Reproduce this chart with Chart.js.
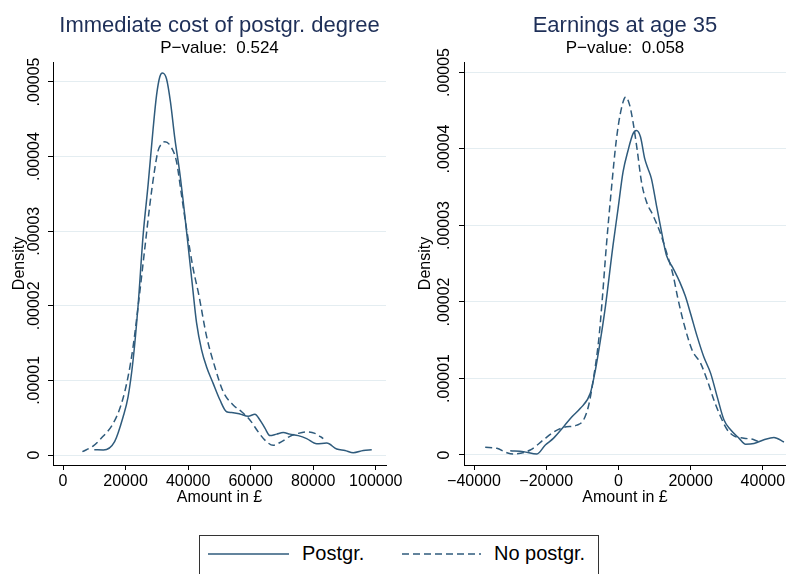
<!DOCTYPE html>
<html>
<head>
<meta charset="utf-8">
<script src="https://cdn.jsdelivr.net/npm/chart.js@4/dist/chart.umd.min.js"></script>
<style>
html,body{margin:0;padding:0;background:#fff;width:786px;height:574px;overflow:hidden;font-family:"Liberation Sans",Arial,sans-serif}
#c1{position:absolute;left:0;top:0}
#c2{position:absolute;left:400px;top:0}
#legend{position:absolute;left:199px;top:535px;width:400px;height:60px;border:1px solid #333;background:#fff;box-sizing:border-box}
#legend svg{position:absolute;left:0;top:0}
#legend span{position:absolute;font-size:20px;line-height:20px;color:#000;white-space:nowrap}
</style>
</head>
<body>
<canvas id="c1" width="420" height="520"></canvas>
<canvas id="c2" width="386" height="520"></canvas>
<div id="legend">
  <svg width="400" height="60">
    <line id="l1" x1="8" y1="18" x2="89" y2="18" stroke="#2f5b7c" stroke-width="1.5"/>
    <line id="l2" x1="202" y1="18" x2="281" y2="18" stroke="#2f5b7c" stroke-width="1.5" stroke-dasharray="7,4"/>
  </svg>
  <span id="t1" style="left:102px;top:7px"></span>
  <span id="t2" style="left:294px;top:7px"></span>
</div>
<script>
// ---------- data (density values) ----------
const seriesNames = ['Postgr.', 'No postgr.'];
const panelTitles = ['Immediate cost of postgr. degree', 'Earnings at age 35'];
const pValues = ['0.524', '0.058'];
const xAxisTitle = 'Amount in £';
const yAxisTitle = 'Density';

const yTicks = [0, 0.00001, 0.00002, 0.00003, 0.00004, 0.00005];
const costXTicks = [0, 20000, 40000, 60000, 80000, 100000];
const earnXTicks = [-40000, -20000, 0, 20000, 40000];

// Panel 1: Immediate cost — Postgr. (solid)
const costPostX = [10000,12900,16500,19200,20800,22400,24000,25600,27200,28800,29900,30950,31800,33100,34360,35760,37310,38810,40320,41300,42700,44300,45900,48000,50150,52300,53900,56550,59200,61350,62950,64550,66150,68300,70400,72550,75200,77900,81100,84300,87500,90150,92800,96000,98700];
const costPostY = [0.07e-5,0.067e-5,0.18e-5,0.51e-5,0.78e-5,1.27e-5,2.0e-5,2.94e-5,3.62e-5,4.37e-5,4.82e-5,5.07e-5,5.12e-5,5.04e-5,4.73e-5,4.24e-5,3.79e-5,3.26e-5,2.68e-5,2.3e-5,1.77e-5,1.41e-5,1.18e-5,0.96e-5,0.74e-5,0.58e-5,0.57e-5,0.55e-5,0.52e-5,0.545e-5,0.47e-5,0.36e-5,0.26e-5,0.28e-5,0.30e-5,0.28e-5,0.26e-5,0.22e-5,0.15e-5,0.16e-5,0.08e-5,0.06e-5,0.03e-5,0.06e-5,0.07e-5];
// Panel 1: Immediate cost — No postgr. (dashed)
const costNoX = [6200,9600,12800,16000,18700,20800,22400,24000,26150,27750,29350,30400,31500,32550,34700,36300,37900,39500,41600,43400,45900,48550,51200,54400,57100,59750,62400,64550,67200,69900,72550,75200,77900,80550,83200];
const costNoY = [0.045e-5,0.12e-5,0.25e-5,0.42e-5,0.69e-5,1.05e-5,1.45e-5,1.99e-5,2.77e-5,3.35e-5,3.84e-5,4.08e-5,4.17e-5,4.20e-5,4.12e-5,3.93e-5,3.48e-5,3.03e-5,2.50e-5,2.15e-5,1.59e-5,1.18e-5,0.85e-5,0.67e-5,0.58e-5,0.47e-5,0.31e-5,0.20e-5,0.13e-5,0.18e-5,0.25e-5,0.29e-5,0.31e-5,0.29e-5,0.22e-5];

// Panel 2: Earnings at 35 — Postgr. (solid)
const earnPostX = [-29960,-26270,-22580,-20250,-17950,-15170,-12870,-10540,-7770,-6380,-4990,-3610,-1500,-100,1280,2660,4050,4990,6100,7300,8210,9150,10540,11930,13300,15150,17000,18500,19970,21800,23660,25520,27360,29210,31070,33370,35230,37530,40300,43080,45850];
const earnPostY = [0.056e-5,0.043e-5,0.013e-5,0.13e-5,0.22e-5,0.37e-5,0.50e-5,0.61e-5,0.81e-5,1.11e-5,1.50e-5,1.94e-5,2.74e-5,3.22e-5,3.70e-5,3.98e-5,4.20e-5,4.24e-5,4.16e-5,3.87e-5,3.74e-5,3.61e-5,3.26e-5,2.92e-5,2.61e-5,2.44e-5,2.26e-5,2.08e-5,1.85e-5,1.55e-5,1.28e-5,1.07e-5,0.76e-5,0.46e-5,0.33e-5,0.22e-5,0.14e-5,0.15e-5,0.20e-5,0.23e-5,0.17e-5];
// Panel 2: Earnings at 35 — No postgr. (dashed)
const earnNoX = [-36900,-33680,-30900,-29040,-24410,-20720,-17950,-15170,-11480,-9630,-8240,-6850,-5470,-4500,-3330,-1940,-550,830,2030,3130,4050,5160,6380,7770,9600,11460,13310,15150,16400,18110,20420,22740,24580,26440,28300,30130,31980,34760,37530,39390];
const earnNoY = [0.10e-5,0.087e-5,0.03e-5,0.013e-5,0.065e-5,0.20e-5,0.30e-5,0.36e-5,0.39e-5,0.46e-5,0.65e-5,1.02e-5,1.50e-5,2.02e-5,2.74e-5,3.48e-5,4.13e-5,4.53e-5,4.68e-5,4.57e-5,4.35e-5,4.00e-5,3.57e-5,3.31e-5,3.13e-5,2.92e-5,2.65e-5,2.35e-5,2.06e-5,1.72e-5,1.37e-5,1.20e-5,0.98e-5,0.72e-5,0.50e-5,0.33e-5,0.25e-5,0.22e-5,0.20e-5,0.16e-5];

// ---------- styling ----------
const FONT = '"Liberation Sans", Arial, Helvetica, sans-serif';
const LINE = '#2f5b7c';
const GRID = '#e4edf1';
const TITLE_COLOR = '#1e2f58';

document.getElementById('t1').textContent = seriesNames[0];
document.getElementById('t2').textContent = seriesNames[1];

function fmtY(v) { return v === 0 ? '0' : v.toFixed(5).replace(/^0/, ''); }
function fmtX(v) { return v < 0 ? '\u2212' + Math.abs(v) : String(v); }

function pts(xs, ys) { return xs.map((x, i) => ({x: x, y: ys[i]})); }

function makePanel(canvasId, p) {
  const textPlugin = {
    id: 'panelText' + canvasId,
    afterDraw(chart) {
      const ctx = chart.ctx, ca = chart.chartArea;
      const cx = (ca.left + ca.right) / 2;
      ctx.save();
      ctx.textAlign = 'center';
      ctx.textBaseline = 'alphabetic';
      ctx.fillStyle = TITLE_COLOR;
      ctx.font = '22px ' + FONT;
      ctx.fillText(p.title, cx, 32);
      ctx.fillStyle = '#000';
      ctx.font = '17px ' + FONT;
      ctx.fillText('P\u2212value:  ' + p.pval, cx, 53);
      // rotated y tick labels
      const ys = chart.scales.y;
      ctx.font = '16px ' + FONT;
      ys.ticks.forEach(t => {
        const py = ys.getPixelForValue(t.value);
        ctx.save();
        ctx.translate(ca.left - p.tickOff, py);
        ctx.rotate(-Math.PI / 2);
        ctx.fillText(fmtY(t.value), 0, 0);
        ctx.restore();
      });
      // y axis title
      ctx.save();
      ctx.translate(ca.left - p.titleOff, (ca.top + ca.bottom) / 2);
      ctx.rotate(-Math.PI / 2);
      ctx.fillText(yAxisTitle, 0, 0);
      ctx.restore();
      ctx.restore();
    }
  };
  return new Chart(document.getElementById(canvasId), {
    type: 'scatter',
    data: {
      datasets: [
        {label: seriesNames[0], data: pts(p.x1, p.y1), showLine: true, borderColor: LINE, borderWidth: 1.5,
         pointRadius: 0, cubicInterpolationMode: 'monotone', fill: false},
        {label: seriesNames[1], data: pts(p.x2, p.y2), showLine: true, borderColor: LINE, borderWidth: 1.5,
         borderDash: [7, 4], pointRadius: 0, cubicInterpolationMode: 'monotone', fill: false}
      ]
    },
    options: {
      responsive: false, animation: false, events: [],
      layout: {padding: {left: 0, right: p.rightPad, top: 62, bottom: 0}},
      plugins: {legend: {display: false}, tooltip: {enabled: false}, title: {display: false}},
      scales: {
        x: {
          type: 'linear', position: 'bottom', min: p.xmin, max: p.xmax,
          afterBuildTicks: s => { s.ticks = p.xTicks.map(v => ({value: v})); },
          afterFit: s => { s.height = 55; s.paddingLeft = 0; s.paddingRight = 0; },
          grid: {drawOnChartArea: false, drawTicks: true, tickLength: 5, tickColor: '#000', tickWidth: 1},
          border: {display: true, color: '#000', width: 1},
          ticks: {font: {family: FONT, size: 16}, color: '#000', padding: 2, minRotation: 0, maxRotation: 0,
                  autoSkip: false, callback: v => fmtX(v)},
          title: {display: true, text: xAxisTitle, font: {family: FONT, size: 16}, color: '#000',
                  padding: {top: 0, bottom: 13}}
        },
        y: {
          type: 'linear', position: 'left', min: p.ymin, max: p.ymax,
          afterBuildTicks: s => { s.ticks = yTicks.map(v => ({value: v})); },
          afterFit: s => { s.width = p.yW; s.paddingTop = 0; s.paddingBottom = 0; },
          grid: {color: GRID, lineWidth: 1, drawTicks: true, tickLength: 5, tickColor: '#000', tickWidth: 1},
          border: {display: true, color: '#000', width: 1},
          ticks: {display: false}
        }
      }
    },
    plugins: [textPlugin]
  });
}

makePanel('c1', {
  title: panelTitles[0], pval: pValues[0],
  x1: costPostX, y1: costPostY, x2: costNoX, y2: costNoY,
  xTicks: costXTicks, xmin: -3200, xmax: 103260, ymin: -0.134e-5, ymax: 5.268e-5,
  yW: 53, rightPad: 34, tickOff: 14, titleOff: 29
});
makePanel('c2', {
  title: panelTitles[1], pval: pValues[1],
  x1: earnPostX, y1: earnPostY, x2: earnNoX, y2: earnNoY,
  xTicks: earnXTicks, xmin: -42770, xmax: 46410, ymin: -0.131e-5, ymax: 5.137e-5,
  yW: 64, rightPad: 0, tickOff: 15, titleOff: 34
});
</script>
</body>
</html>
